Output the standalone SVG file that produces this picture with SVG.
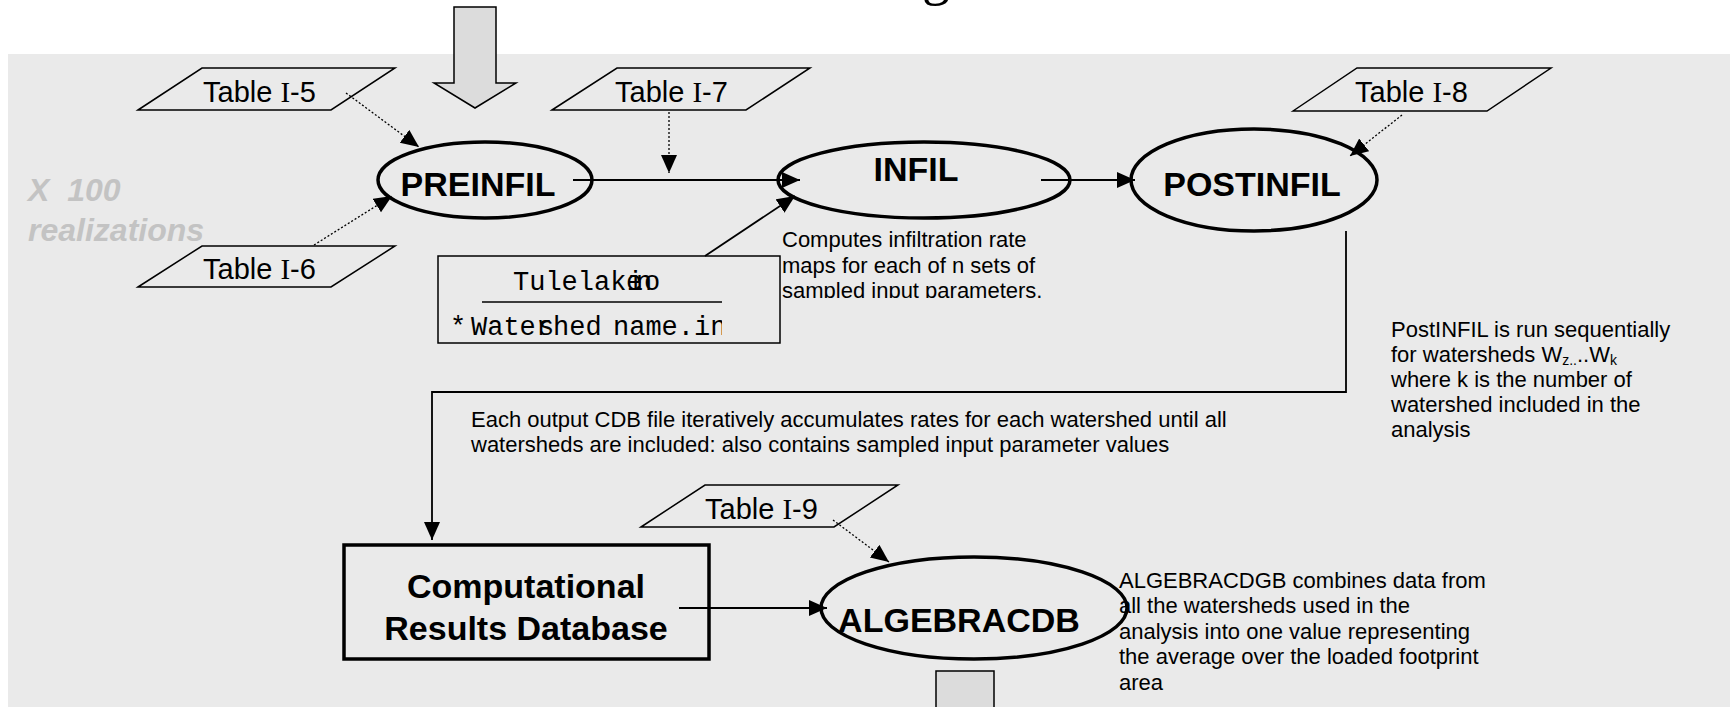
<svg xmlns="http://www.w3.org/2000/svg" width="1730" height="707" viewBox="0 0 1730 707">
<style>
.bg{fill:#eaeaea}
.tbl{fill:#eaeaea;stroke:#000;stroke-width:1.5}
.ell{fill:#eaeaea;stroke:#000;stroke-width:3.5}
.blk{fill:#dcdcdc;stroke:#000;stroke-width:1.5}
.tt{font-family:"Liberation Sans",Arial,sans-serif;font-size:29px;fill:#000}
.ser{font-family:"Liberation Serif","Times New Roman",serif}
.lbl{font-family:"Liberation Sans",Arial,sans-serif;font-size:34px;font-weight:bold;fill:#000}
.sm{font-family:"Liberation Sans",Arial,sans-serif;font-size:22px;fill:#000}
.mono{font-family:"Liberation Mono","Courier New",monospace;font-size:27px;fill:#000}
.ln{fill:none;stroke:#000;stroke-width:1.8}
.dot{fill:none;stroke:#000;stroke-width:1.3;stroke-dasharray:2 2}
.rep{font-family:"Liberation Sans",Arial,sans-serif;font-size:32px;font-weight:bold;font-style:italic;fill:#c3c3c3}
</style>
<defs>
<marker id="ah" markerUnits="userSpaceOnUse" markerWidth="20" markerHeight="18" refX="18" refY="8" orient="auto">
<path d="M0,0 L18,8 L0,16 Z" fill="#000"/>
</marker>
<clipPath id="clipComp"><rect x="775" y="225" width="320" height="73"/></clipPath>
<clipPath id="clipTule"><rect x="440" y="258" width="282" height="84"/></clipPath>
</defs>
<rect x="0" y="0" width="1730" height="707" fill="#fff"/>
<text x="922" y="-6" font-family="Liberation Serif,serif" font-size="56" fill="#000">g</text>
<rect class="bg" x="8" y="54" width="1722" height="653"/>

<g id="input-arrow">
<polygon class="blk" points="454,7 496,7 496,83 516,83 475,108 434,83 454,83"/>
</g>

<text class="rep" x="28" y="201" xml:space="preserve">X  100</text>
<text class="rep" x="28" y="241">realizations</text>

<g id="table-i-5">
<polygon class="tbl" points="138,110 202,68 395,68 331,110"/>
<text class="tt" x="203" y="102">Table <tspan class="ser">I</tspan>-5</text>
</g>
<g id="table-i-6">
<polygon class="tbl" points="138,287 202,246 395,246 331,287"/>
<text class="tt" x="203" y="279">Table <tspan class="ser">I</tspan>-6</text>
</g>
<g id="table-i-7">
<polygon class="tbl" points="552,110 617,68 810,68 746,110"/>
<text class="tt" x="615" y="102">Table <tspan class="ser">I</tspan>-7</text>
</g>
<g id="table-i-8">
<polygon class="tbl" points="1293,111 1357,68 1551,68 1487,111"/>
<text class="tt" x="1355" y="102">Table <tspan class="ser">I</tspan>-8</text>
</g>
<g id="table-i-9">
<polygon class="tbl" points="641,527 705,485 898,485 834,527"/>
<text class="tt" x="705" y="519">Table <tspan class="ser">I</tspan>-9</text>
</g>

<g id="preinfil">
<ellipse class="ell" cx="485" cy="180" rx="107" ry="38"/>
<text class="lbl" x="478" y="196" text-anchor="middle">PREINFIL</text>
</g>
<g id="infil">
<ellipse class="ell" cx="924" cy="180" rx="146" ry="38"/>
<text class="lbl" x="916" y="181" text-anchor="middle">INFIL</text>
<g clip-path="url(#clipComp)">
<text class="sm" x="782" y="247">Computes infiltration rate</text>
<text class="sm" x="782" y="273">maps for each of n sets of</text>
<text class="sm" x="782" y="298">sampled input parameters.</text>
</g>
</g>
<g id="postinfil">
<ellipse class="ell" cx="1254" cy="180" rx="123" ry="51"/>
<text class="lbl" x="1252" y="196" text-anchor="middle">POSTINFIL</text>
</g>

<g id="tulelake">
<rect x="438" y="256" width="342" height="87" fill="#eaeaea" stroke="#000" stroke-width="1.5"/>
<g clip-path="url(#clipTule)">
<text class="mono" x="513" y="290">Tulelak</text>
<text class="mono" x="626" y="290">e</text>
<text class="mono" x="627" y="290">i</text>
<text class="mono" x="636" y="290">n</text>
<text class="mono" x="644" y="290">o</text>
<line x1="482" y1="302" x2="727" y2="302" stroke="#000" stroke-width="1.5"/>
<text class="mono" x="450" y="335">*</text>
<text class="mono" x="471" y="335">Wate</text>
<text class="mono" x="536" y="335">r</text>
<text class="mono" x="538" y="335">s</text>
<text class="mono" x="553" y="335">hed</text>
<text class="mono" x="613" y="335">name.in</text>
</g>
</g>

<g id="postinfil-note">
<text class="sm" x="1391" y="337">PostINFIL is run sequentially</text>
<text class="sm" x="1391" y="362">for watersheds W<tspan font-size="14" dy="3">z..</tspan><tspan dy="-3">..W</tspan><tspan font-size="14" dy="3">k</tspan></text>
<text class="sm" x="1391" y="387">where k is the number of</text>
<text class="sm" x="1391" y="412">watershed included in the</text>
<text class="sm" x="1391" y="437">analysis</text>
</g>

<g id="cdb-note">
<text class="sm" x="471" y="427">Each output CDB file iteratively accumulates rates for each watershed until all</text>
<text class="sm" x="471" y="452">watersheds are included: also contains sampled input parameter values</text>
</g>

<g id="crd">
<rect x="344" y="545" width="365" height="114" fill="#eaeaea" stroke="#000" stroke-width="3.5"/>
<text class="lbl" x="526" y="598" text-anchor="middle" font-size="33">Computational</text>
<text class="lbl" x="526" y="640" text-anchor="middle" font-size="33">Results Database</text>
</g>

<g id="algebracdb">
<ellipse class="ell" cx="974" cy="608" rx="153" ry="51"/>
<text class="lbl" x="959" y="632" text-anchor="middle">ALGEBRACDB</text>
</g>

<g id="algebra-note">
<text class="sm" x="1119" y="588">ALGEBRACDGB combines data from</text>
<text class="sm" x="1119" y="613">all the watersheds used in the</text>
<text class="sm" x="1119" y="639">analysis into one value representing</text>
<text class="sm" x="1119" y="664">the average over the loaded footprint</text>
<text class="sm" x="1119" y="690">area</text>
</g>

<g id="output-arrow">
<rect class="blk" x="936" y="671" width="58" height="45"/>
</g>

<g id="connectors">
<line class="ln" x1="573" y1="180" x2="800" y2="180" marker-end="url(#ah)"/>
<line class="ln" x1="1041" y1="180" x2="1135" y2="180" marker-end="url(#ah)"/>
<line class="ln" x1="705" y1="256" x2="795" y2="196" marker-end="url(#ah)"/>
<polyline class="ln" points="1346,231 1346,392 432,392 432,540" marker-end="url(#ah)"/>
<line class="ln" x1="679" y1="608" x2="827" y2="608" marker-end="url(#ah)"/>
<line class="dot" x1="346" y1="93" x2="419" y2="147" marker-end="url(#ah)"/>
<line class="dot" x1="314" y1="245" x2="392" y2="196" marker-end="url(#ah)"/>
<line class="dot" x1="669" y1="112" x2="669" y2="173" marker-end="url(#ah)"/>
<line class="dot" x1="1402" y1="115" x2="1350" y2="156" marker-end="url(#ah)"/>
<line class="dot" x1="833" y1="520" x2="889" y2="562" marker-end="url(#ah)"/>
</g>
</svg>
